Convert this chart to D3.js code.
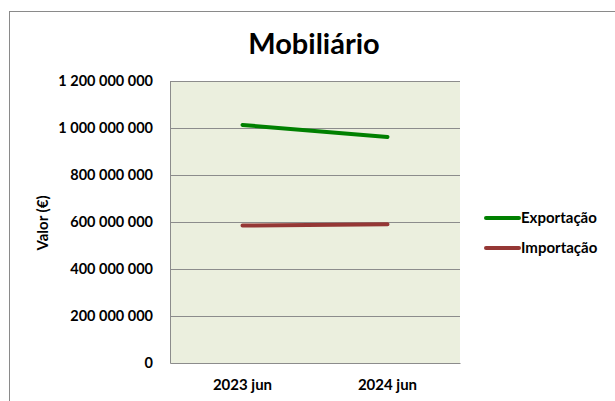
<!DOCTYPE html>
<html>
<head>
<meta charset="utf-8">
<script src="https://cdn.jsdelivr.net/npm/d3@7"></script>
<style>
  body { margin: 0; background: #fff; }
  text { font-family: Lato, "Open Sans", sans-serif; }
</style>
</head>
<body>
<div id="chart"></div>
<script>
// data
var categories = ["2023 jun", "2024 jun"];
var exportacao = [1013000000, 962000000];
var importacao = [585000000, 590000000];
var yTicks = [0, 200000000, 400000000, 600000000, 800000000, 1000000000, 1200000000];

var series = [
  { name: "Exportação", values: exportacao, color: "#008000" },
  { name: "Importação", values: importacao, color: "#953735" }
];

var W = 615, H = 401;
var margin = { top: 81, left: 170, right: 155, bottom: 38 };
var width = W - margin.left - margin.right,
    height = H - margin.top - margin.bottom;

var svg = d3.select("#chart").append("svg")
  .attr("width", W).attr("height", H);

// outer chart frame
svg.append("rect")
  .attr("x", 9.5).attr("y", 11.5)
  .attr("width", W).attr("height", H)
  .attr("fill", "none").attr("stroke", "#8a8a8a");

svg.append("text")
  .attr("x", 314).attr("y", 54)
  .attr("text-anchor", "middle")
  .style("font-size", "29px").style("font-weight", "bold")
  .text("Mobiliário");

var g = svg.append("g")
  .attr("transform", "translate(" + margin.left + "," + margin.top + ")");

var x = d3.scaleBand().domain(categories).range([0, width]);
var y = d3.scaleLinear().domain([0, 1200000000]).range([height, 0]);

g.append("rect")
  .attr("width", width).attr("height", height)
  .attr("fill", "#ebefde");

// gridlines
g.selectAll(".grid").data(yTicks.filter(function (d) { return d > 0; }))
  .enter().append("line")
  .attr("x1", 0).attr("x2", width)
  .attr("y1", function (d) { return Math.round(y(d)) + 0.5; })
  .attr("y2", function (d) { return Math.round(y(d)) + 0.5; })
  .attr("stroke", "#8c8c8c").attr("stroke-width", 1);

var fmt = function (d) { return d3.format(",")(d).replace(/,/g, " "); };

var yAxis = g.append("g")
  .call(d3.axisLeft(y).tickValues(yTicks).tickFormat(fmt).tickSize(0).tickPadding(17));
yAxis.select(".domain").attr("stroke", "#8c8c8c");
yAxis.selectAll("text")
  .style("font-family", "Lato, sans-serif")
  .style("font-size", "14.5px").style("font-weight", "bold").attr("fill", "#000");

var xAxis = g.append("g")
  .attr("transform", "translate(0," + height + ")")
  .call(d3.axisBottom(x).tickSize(0).tickPadding(16));
xAxis.select(".domain").attr("stroke", "#8c8c8c");
xAxis.selectAll("text")
  .style("font-family", "Lato, sans-serif")
  .style("font-size", "15px").style("font-weight", "bold").attr("fill", "#000");

svg.append("text")
  .attr("transform", "translate(48,223) rotate(-90)")
  .attr("text-anchor", "middle")
  .style("font-size", "15px").style("font-weight", "bold")
  .text("Valor (€)");

var line = d3.line()
  .x(function (d, i) { return x(categories[i]) + x.bandwidth() / 2; })
  .y(function (d) { return y(d); });

g.selectAll(".series").data(series).enter().append("path")
  .attr("d", function (s) { return line(s.values); })
  .attr("fill", "none")
  .attr("stroke", function (s) { return s.color; })
  .attr("stroke-width", 4)
  .attr("stroke-linecap", "round");

// legend
var legend = svg.append("g").attr("transform", "translate(486,218)");
var item = legend.selectAll("g").data(series).enter().append("g")
  .attr("transform", function (d, i) { return "translate(0," + i * 30 + ")"; });
item.append("line")
  .attr("x1", 0).attr("x2", 33)
  .attr("stroke", function (d) { return d.color; })
  .attr("stroke-width", 4).attr("stroke-linecap", "round");
item.append("text")
  .attr("x", 35).attr("y", 5)
  .style("font-size", "15px").style("font-weight", "bold")
  .text(function (d) { return d.name; });
</script>
</body>
</html>
